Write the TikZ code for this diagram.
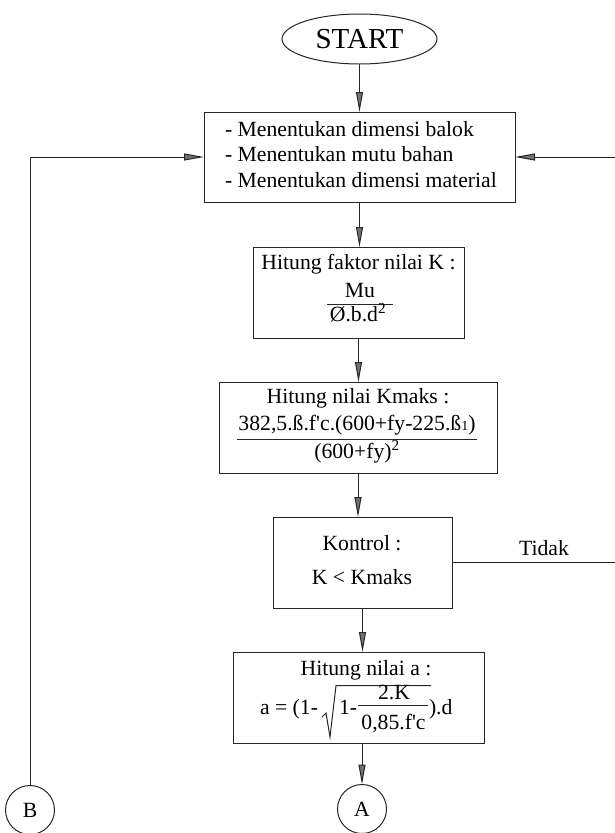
\documentclass[tikz,border=0pt]{standalone}
\usepackage{fontspec}
\setmainfont{Liberation Serif}
\usetikzlibrary{arrows.meta,shapes.geometric}
\newcommand{\bodyfont}{\fontsize{21.7}{26}\selectfont}
\begin{document}
\begin{tikzpicture}[x=1pt,y=-1pt,
  every node/.style={inner sep=0pt, outer sep=0pt},
  line/.style={draw=black!85, line width=1pt},
  flow/.style={line, -{Triangle[length=20pt, width=7pt, fill=black!55]}},
  procbox/.style={line, rectangle, minimum width=#1, minimum height=91pt},
  txt/.style={font=\bodyfont, anchor=base},
  conn/.style={line, circle, minimum size=49pt, font=\bodyfont}
]
\useasboundingbox (0,0) rectangle (614,833);

% terminal
\node[line, ellipse, minimum width=155pt, minimum height=50pt,
      font=\fontsize{29}{30}\selectfont] (start) at (359.5,39) {START};

% input of dimensions and materials
\node[procbox=311pt, minimum height=90pt] (dim) at (359.5,157) {};
\node[txt, anchor=base west] (dim1) at (225,136) {- Menentukan dimensi balok};
\node[txt, anchor=base west] (dim2) at (225,161.5) {- Menentukan mutu bahan};
\node[txt, anchor=base west] (dim3) at (225,187) {- Menentukan dimensi material};

% factor K
\node[procbox=211pt] (fk) at (358.5,292.5) {};
\node[txt] (fkt) at (358.5,269) {Hitung faktor nilai K :};
\node[txt] (fkn) at (360,297) {Mu};
\draw[line] (327,304) -- (393,304);
\node[txt] (fkd) at (358,321) {Ø.b.d\textsuperscript{2}};

% maximum K
\node[procbox=278pt] (km) at (358,427.5) {};
\node[txt] (kmt) at (358,403) {Hitung nilai Kmaks :};
\node[txt] (kmn) at (357,430) {382,5.ß.f\textquotesingle c.(600+fy-225.ß{\fontsize{14}{14}\selectfont 1})};
\draw[line] (237,439) -- (477,439);
\node[txt] (kmd) at (357,458) {(600+fy)\textsuperscript{2}};

% check
\node[procbox=179pt] (ctl) at (362.5,562.5) {};
\node[txt] (ctlt) at (362,550) {Kontrol :};
\node[txt] (ctlc) at (362,584) {K < Kmaks};

% depth a, with a hand drawn radical
\node[procbox=251pt] (an) at (358.5,697.5) {};
\node[txt] (ant) at (366,675) {Hitung nilai a :};
\node[txt, anchor=base west] (anl) at (260,714) {a = (1-};
\draw[line, line join=miter] (322,717) -- (326,713) -- (330,737) -- (336,685.5) -- (431,685.5);
\node[txt, anchor=base west] (ani) at (339,714) {1-};
\node[txt] (ann) at (394,699) {2.K};
\draw[line] (358,705) -- (428,705);
\node[txt] (and) at (393.5,729) {0,85.f\textquotesingle c};
\node[txt, anchor=base west] (anr) at (429,714) {).d};

% connectors
\node[conn] (A) at (362,809) {A};
\node[conn] (B) at (30,810) {B};
\coordinate (rt) at (615.5,157);

\draw[flow] (start.south) -- (dim.north);
\draw[flow] (dim.south) -- (dim.south |- fk.north);
\draw[flow] (fk.south) -- (fk.south |- km.north);
\draw[flow] (km.south) -- (km.south |- ctl.north);
\draw[flow] (ctl.south) -- (ctl.south |- an.north);
\draw[flow] (an.south -| A) -- (A);
\draw[flow] (B) -- (B |- dim.west) -- (dim.west);
\draw[flow] (ctl.east) -- (ctl.east -| rt) -- (rt) -- (dim.east);
\node[txt] (tidak) at (544,555) {Tidak};
\end{tikzpicture}
\end{document}
